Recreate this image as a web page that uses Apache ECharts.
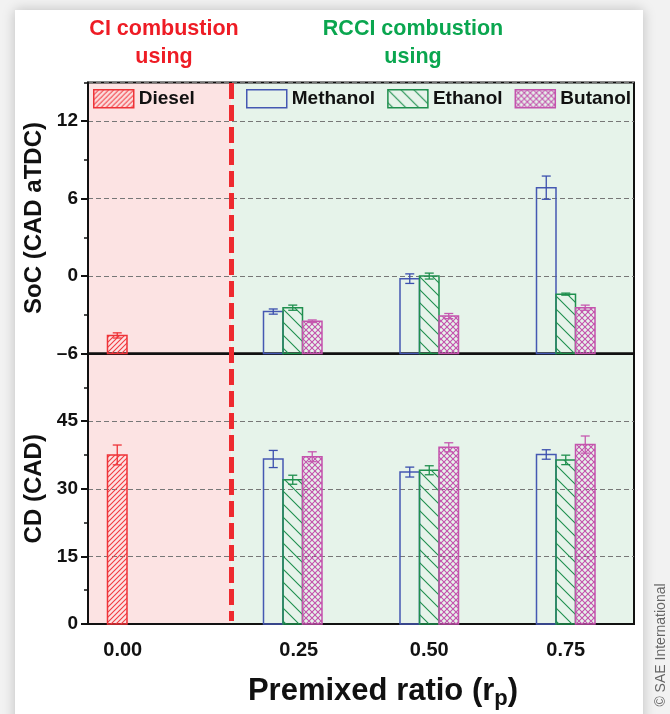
<!DOCTYPE html>
<html>
<head>
<meta charset="utf-8">
<script src="https://cdn.jsdelivr.net/npm/echarts@6/dist/echarts.min.js"></script>
<style>
  html, body { margin: 0; padding: 0; background: #f2f2f2; }
  #chart { width: 670px; height: 714px; }
</style>
</head>
<body>
<div id="chart"></div>
<script>
// Premixed ratio categories
const categories = ['0.00', '0.25', '0.50', '0.75'];

// Start of combustion, SoC (CAD aTDC), with error half-widths
const socDiesel      = [-4.6, null, null, null];
const socDieselErr   = [0.2, null, null, null];
const socMethanol    = [null, -2.75, -0.2, 6.85];
const socMethanolErr = [null, 0.2, 0.37, 0.9];
const socEthanol     = [null, -2.45, 0.0, -1.4];
const socEthanolErr  = [null, 0.2, 0.23, 0.08];
const socButanol     = [null, -3.5, -3.1, -2.45];
const socButanolErr  = [null, 0.1, 0.2, 0.2];

// Combustion duration, CD (CAD), with error half-widths
const cdDiesel       = [37.5, null, null, null];
const cdDieselErr    = [2.2, null, null, null];
const cdMethanol     = [null, 36.6, 33.7, 37.6];
const cdMethanolErr  = [null, 1.9, 1.1, 1.05];
const cdEthanol      = [null, 32.0, 34.1, 36.4];
const cdEthanolErr   = [null, 1.0, 1.0, 1.05];
const cdButanol      = [null, 37.1, 39.2, 39.8];
const cdButanolErr   = [null, 1.1, 1.0, 1.9];

// Axis ranges
const socMin = -6, socMax = 15, socStep = 6;
const cdMin = 0, cdMax = 60, cdStep = 15;

const FONT = '"Liberation Sans", Arial, sans-serif';

// Repeating hatch fills drawn on small canvases
function hatch(color, kind, size, lw) {
  const c = document.createElement('canvas');
  c.width = c.height = size;
  const g = c.getContext('2d');
  g.strokeStyle = color;
  g.lineWidth = lw;
  const s = size;
  const up = () => {
    g.beginPath();
    g.moveTo(-1, s + 1); g.lineTo(s + 1, -1);
    g.moveTo(-1, 1); g.lineTo(1, -1);
    g.moveTo(s - 1, s + 1); g.lineTo(s + 1, s - 1);
    g.stroke();
  };
  const down = () => {
    g.beginPath();
    g.moveTo(-1, -1); g.lineTo(s + 1, s + 1);
    g.moveTo(s - 1, -1); g.lineTo(s + 1, 1);
    g.moveTo(-1, s - 1); g.lineTo(1, s + 1);
    g.stroke();
  };
  if (kind === '/' || kind === 'x') up();
  if (kind === '\\' || kind === 'x') down();
  return { image: c, repeat: 'repeat' };
}

const styles = {
  Diesel:   { fill: hatch('#f23a40', '/', 5, 1.1), stroke: '#ee3338', err: '#ee3338', offset: -2 },
  Methanol: { fill: 'rgba(0,0,0,0)', stroke: '#4558b2', err: '#3b4fae', offset: -1 },
  Ethanol:  { fill: hatch('#1f8f4e', '\\', 13, 1.1), stroke: '#1f8f4e', err: '#1f8f4e', offset: 0 },
  Butanol:  { fill: hatch('#c453ad', 'x', 6, 1.1), stroke: '#c453ad', err: '#c659b0', offset: 1 }
};

// Bars with error whiskers, placed through the category/value scales
function barSeries(name, gridIdx, yIdx, values, errs, base) {
  const st = styles[name];
  const data = [];
  values.forEach((v, i) => { if (v != null) data.push([i, v, errs[i]]); });
  return {
    type: 'custom',
    name: name,
    xAxisIndex: gridIdx,
    yAxisIndex: yIdx,
    data: data,
    encode: { x: 0, y: 1 },
    itemStyle: { color: st.fill, borderColor: st.stroke, borderWidth: 1.5 },
    z: 5,
    renderItem: function (params, api) {
      const i = api.value(0), v = api.value(1), e = api.value(2);
      const band = api.size([1, 0])[0];
      const w = band / 7;
      const top = api.coord([i, v]);
      const bot = api.coord([i, base]);
      const cx = top[0] + st.offset * w;
      const hi = api.coord([i, v + e])[1];
      const lo = api.coord([i, v - e])[1];
      const cap = 4.5;
      const eStyle = { stroke: st.err, lineWidth: 1.3 };
      return {
        type: 'group',
        children: [
          { type: 'rect', shape: { x: cx - w / 2, y: top[1], width: w, height: bot[1] - top[1] },
            style: { fill: st.fill, stroke: st.stroke, lineWidth: 1.5 } },
          { type: 'line', shape: { x1: cx, y1: hi, x2: cx, y2: lo }, style: eStyle },
          { type: 'line', shape: { x1: cx - cap, y1: hi, x2: cx + cap, y2: hi }, style: eStyle },
          { type: 'line', shape: { x1: cx - cap, y1: lo, x2: cx + cap, y2: lo }, style: eStyle }
        ]
      };
    }
  };
}

const axisBlack = { show: true, onZero: false, lineStyle: { color: '#111', width: 2 } };
const gridDash = { show: true, lineStyle: { color: '#777', width: 1, type: [5, 3] } };
const labelText = { color: '#111', fontFamily: FONT, fontWeight: 'bold', fontSize: 19 };
const xLabelText = { color: '#111', fontFamily: FONT, fontWeight: 'bold', fontSize: 20 };
const titleText = { fontFamily: FONT, fontWeight: 'bold', fontSize: 24, color: '#111' };

const chart = echarts.init(document.getElementById('chart'));

const legendItem = (n) => ({
  name: n,
  icon: 'rect',
  itemStyle: { color: styles[n].fill, borderColor: styles[n].stroke, borderWidth: 1.5 }
});
const legendText = { color: '#111', fontFamily: FONT, fontWeight: 'bold', fontSize: 19 };

chart.setOption({
  backgroundColor: '#f2f2f2',
  animation: false,
  graphic: [
    { type: 'rect', z: -30, shape: { x: 15, y: 10, width: 628, height: 720 },
      style: { fill: '#ffffff', shadowBlur: 12, shadowColor: 'rgba(0,0,0,0.22)' } },
    // CI region and RCCI region shading
    { type: 'rect', z: -10, shape: { x: 88, y: 82.5, width: 143.5, height: 541.5 },
      style: { fill: '#fce3e3' } },
    { type: 'rect', z: -10, shape: { x: 231.5, y: 82.5, width: 402.5, height: 541.5 },
      style: { fill: '#e6f3ea' } },
    { type: 'line', z: 20, shape: { x1: 231.5, y1: 83, x2: 231.5, y2: 621 },
      style: { stroke: '#ee2a2f', lineWidth: 5, lineDash: [16, 6] } },
    { type: 'text', z: 20, x: 164, y: 43,
      style: { text: 'CI combustion\nusing', fill: '#ee1c25', font: 'bold 21.5px ' + FONT,
               align: 'center', verticalAlign: 'middle', lineHeight: 28 } },
    { type: 'text', z: 20, x: 413, y: 43,
      style: { text: 'RCCI combustion\nusing', fill: '#0aa64f', font: 'bold 21.5px ' + FONT,
               align: 'center', verticalAlign: 'middle', lineHeight: 28 } },
    { type: 'text', z: 20, x: 661, y: 645, rotation: Math.PI / 2,
      style: { text: '© SAE International', fill: '#666', font: '14px ' + FONT,
               align: 'center', verticalAlign: 'middle' } }
  ],
  legend: [
    { left: 93, top: 89, padding: 0, itemWidth: 40, itemHeight: 18, selectedMode: false,
      textStyle: legendText, data: [legendItem('Diesel')] },
    { left: 246, top: 89, padding: 0, itemWidth: 40, itemHeight: 18, itemGap: 12, selectedMode: false,
      textStyle: legendText, data: [legendItem('Methanol'), legendItem('Ethanol'), legendItem('Butanol')] }
  ],
  grid: [
    { left: 88, width: 546, top: 82.5, height: 271, show: true, borderColor: '#111', borderWidth: 2, backgroundColor: 'transparent' },
    { left: 88, width: 546, top: 353.5, height: 270.5, show: true, borderColor: '#111', borderWidth: 2, backgroundColor: 'transparent' }
  ],
  xAxis: [
    { gridIndex: 0, type: 'category', data: categories, boundaryGap: true, position: 'bottom',
      axisLine: axisBlack, axisTick: { alignWithLabel: true, length: 7, lineStyle: { color: '#111', width: 2 } },
      axisLabel: { show: false }, splitLine: { show: false } },
    { gridIndex: 1, type: 'category', data: categories, boundaryGap: true, position: 'bottom',
      axisLine: axisBlack, axisTick: { alignWithLabel: true, length: 8, lineStyle: { color: '#111', width: 2 } },
      axisLabel: Object.assign({}, xLabelText, {
        margin: 16,
        formatter: (v) => v === '0.00' ? '{l|' + v + '}' : (v === '0.25' ? '{r|' + v + '}' : v),
        rich: {
          l: Object.assign({}, xLabelText, { padding: [0, 67, 0, 0] }),
          r: Object.assign({}, xLabelText, { padding: [0, 0, 0, 12] })
        }
      }),
      splitLine: { show: false },
      name: '{a|Premixed ratio (r}{s|p}{a|)}', nameLocation: 'middle', nameGap: 49,
      nameTextStyle: {
        padding: [0, 0, 0, 44],
        rich: {
          a: { fontFamily: FONT, fontWeight: 'bold', fontSize: 31, color: '#111', lineHeight: 36 },
          s: { fontFamily: FONT, fontWeight: 'bold', fontSize: 22, color: '#111', lineHeight: 22, padding: [16, 0, 0, 0] }
        }
      } }
  ],
  yAxis: [
    { gridIndex: 0, type: 'value', position: 'left', min: socMin, max: socMax, interval: socStep,
      axisLine: axisBlack, axisTick: { show: true, length: 7, lineStyle: { color: '#111', width: 2 } },
      axisLabel: Object.assign({}, labelText, { margin: 10, showMaxLabel: false,
        formatter: (v) => v < 0 ? '\u2013' + Math.abs(v) : String(v) }),
      splitLine: gridDash,
      name: 'SoC (CAD aTDC)', nameLocation: 'middle', nameGap: 37,
      nameTextStyle: titleText },
    { gridIndex: 0, type: 'value', position: 'left', offset: 0, min: socMin, max: socMax, interval: socStep / 2,
      axisLine: { show: false, onZero: false }, axisTick: { show: true, length: 4, lineStyle: { color: '#111', width: 1.5 } },
      axisLabel: { show: false }, splitLine: { show: false } },
    { gridIndex: 1, type: 'value', position: 'left', min: cdMin, max: cdMax, interval: cdStep,
      axisLine: axisBlack, axisTick: { show: true, length: 7, lineStyle: { color: '#111', width: 2 } },
      minorTick: { show: true, splitNumber: 2, length: 4, lineStyle: { color: '#111', width: 1.5 } },
      axisLabel: Object.assign({}, labelText, { margin: 10, showMaxLabel: false }),
      splitLine: gridDash,
      name: 'CD (CAD)', nameLocation: 'middle', nameGap: 37,
      nameTextStyle: titleText }
  ],
  series: [
    barSeries('Diesel', 0, 0, socDiesel, socDieselErr, socMin),
    barSeries('Methanol', 0, 0, socMethanol, socMethanolErr, socMin),
    barSeries('Ethanol', 0, 0, socEthanol, socEthanolErr, socMin),
    barSeries('Butanol', 0, 0, socButanol, socButanolErr, socMin),
    barSeries('Diesel', 1, 2, cdDiesel, cdDieselErr, cdMin),
    barSeries('Methanol', 1, 2, cdMethanol, cdMethanolErr, cdMin),
    barSeries('Ethanol', 1, 2, cdEthanol, cdEthanolErr, cdMin),
    barSeries('Butanol', 1, 2, cdButanol, cdButanolErr, cdMin)
  ]
});
</script>
</body>
</html>
